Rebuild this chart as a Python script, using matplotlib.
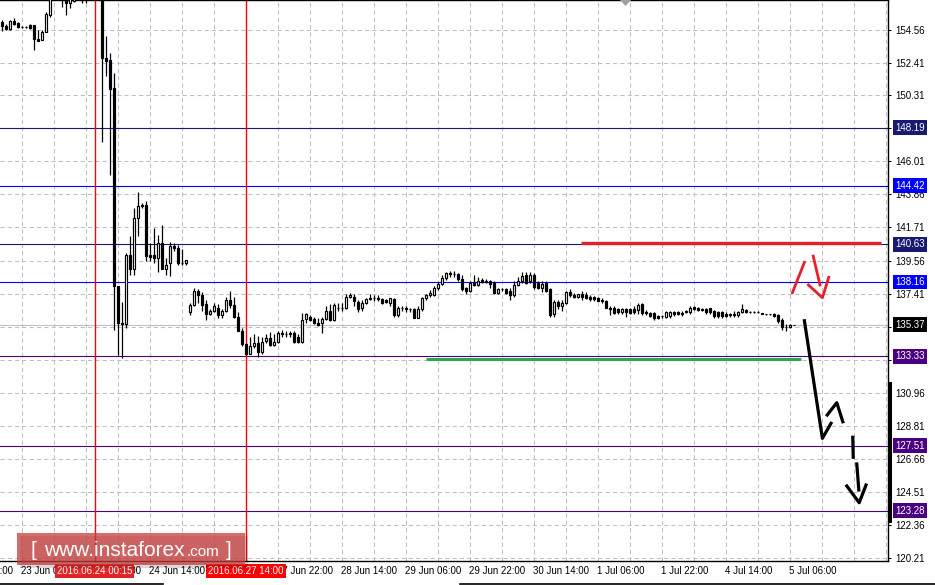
import numpy as np
import matplotlib
matplotlib.use("Agg")
import matplotlib.pyplot as plt
import matplotlib.transforms as mtransforms
from matplotlib.patches import Rectangle, Polygon
from matplotlib.lines import Line2D

plt.rcParams["font.family"] = ["Liberation Sans", "DejaVu Sans"]

W, H = 935, 585

# ---- H1 candles, GBPJPY 23 Jun 01:00 -> 5 Jul 08:00 (bar index = position)
opens = [155.08, 154.82, 154.62, 155.14, 155.01, 154.75, 154.74, 154.88, 154.88, 153.97,
         153.91, 154.43, 155.53, 156.9, 157.4, 157.3, 157.0, 156.3, 156.45, 156.7,
         157.0, 156.8, 157.1, 157.3, 158.5, 158.0, 152.74, 152.6, 150.78, 137.9,
         135.5, 135.45, 139.9, 139.0, 142.3, 143.2, 143.2, 139.9, 139.9, 139.7,
         140.7, 139.0, 139.4, 140.5, 140.4, 139.4, 139.4, 136.2, 136.66, 137.6,
         137.3, 136.7, 136.1, 136.3, 136.5, 136.0, 136.3, 137.0, 136.66, 135.9,
         135.0, 134.1, 133.5, 134.0, 134.2, 133.6, 134.3, 134.5, 134.06, 134.26,
         134.85, 134.8, 134.85, 134.85, 134.6, 134.26, 135.75, 135.9, 135.75, 135.5,
         135.5, 135.75, 136.27, 135.7, 136.5, 136.5, 136.5, 137.2, 137.2, 136.85,
         136.5, 136.8, 137.05, 137.1, 137.1, 137.05, 137.0, 136.8, 137.05, 136.0,
         136.5, 136.45, 136.4, 136.4, 135.85, 136.4, 137.1, 137.3, 137.3, 137.75,
         138.0, 138.4, 138.75, 138.7, 138.7, 138.35, 137.75, 137.58, 138.1, 137.95,
         138.3, 138.2, 138.2, 138.1, 137.45, 137.7, 137.7, 137.6, 137.3, 137.95,
         138.2, 138.6, 138.2, 138.6, 138.1, 137.8, 138.1, 137.7, 136.1, 136.86,
         136.6, 136.8, 137.5, 137.3, 137.2, 137.35, 137.3, 137.2, 137.2, 137.1,
         136.95, 136.9, 136.5, 136.5, 136.4, 136.2, 136.4, 136.4, 136.4, 136.35,
         136.7, 136.2, 136.15, 136.15, 135.95, 135.95, 135.9, 135.95, 136.2, 136.2,
         136.15, 136.2, 136.2, 136.55, 136.5, 136.38, 136.4, 136.45, 136.3, 136.2,
         136.2, 136.1, 136.1, 136.1, 136.0, 136.2, 136.35, 136.21, 136.2, 136.2,
         136.12, 136.08, 136.08, 136.1, 136.0, 135.7, 135.25, 135.26, 135.37]
highs = [155.21, 154.95, 155.21, 155.34, 155.08, 154.8, 154.8, 154.95, 154.9, 154.56,
         154.56, 155.7, 157.1, 157.6, 157.7, 157.6, 157.2, 157.0, 156.8, 157.2,
         157.3, 157.3, 157.6, 160.0, 159.5, 158.3, 154.17, 153.06, 151.76, 137.9,
         136.86, 140.05, 141.15, 142.97, 144.0, 143.3, 143.4, 140.7, 141.7, 141.2,
         141.9, 139.7, 140.76, 140.7, 140.6, 140.3, 139.62, 136.8, 137.8, 137.7,
         137.5, 137.0, 136.4, 136.8, 136.7, 136.4, 137.2, 137.6, 137.2, 136.2,
         135.2, 134.2, 134.6, 134.8, 134.65, 134.6, 134.8, 134.9, 134.8, 135.0,
         135.05, 135.0, 135.0, 135.0, 134.8, 136.15, 136.14, 136.0, 135.9, 135.8,
         135.9, 136.6, 136.7, 136.8, 136.8, 136.8, 137.4, 137.45, 137.4, 137.0,
         137.0, 137.15, 137.35, 137.3, 137.3, 137.1, 137.05, 137.1, 137.1, 136.6,
         136.6, 136.6, 136.5, 136.5, 136.6, 137.2, 137.4, 137.65, 137.9, 138.15,
         138.6, 138.8, 138.9, 138.85, 138.75, 138.6, 137.85, 138.2, 138.6, 138.5,
         138.4, 138.35, 138.3, 138.2, 137.8, 137.8, 137.8, 137.8, 138.2, 138.5,
         138.8, 138.8, 138.8, 138.75, 138.2, 138.25, 138.2, 137.8, 137.0, 137.0,
         137.0, 137.6, 137.7, 137.45, 137.4, 137.55, 137.5, 137.3, 137.25, 137.2,
         137.1, 137.0, 136.6, 136.6, 136.5, 136.5, 136.5, 136.5, 136.6, 136.8,
         136.8, 136.35, 136.2, 136.2, 136.0, 136.0, 136.25, 136.25, 136.3, 136.3,
         136.25, 136.35, 136.6, 136.6, 136.55, 136.5, 136.5, 136.5, 136.35, 136.25,
         136.25, 136.2, 136.15, 136.25, 136.3, 136.7, 136.4, 136.3, 136.25, 136.25,
         136.15, 136.1, 136.1, 136.15, 136.1, 135.8, 135.4, 135.4, 135.38]
lows = [154.49, 154.56, 154.56, 154.88, 154.69, 154.7, 154.7, 154.62, 153.26, 153.84,
        153.9, 154.4, 155.4, 156.7, 156.9, 156.05, 155.53, 155.99, 156.4, 156.6,
        156.31, 156.31, 156.8, 157.0, 157.2, 147.27, 151.57, 145.1, 135.04, 133.4,
        133.2, 135.17, 138.6, 138.6, 141.15, 143.0, 139.5, 139.5, 139.4, 138.8,
        139.0, 138.6, 138.55, 140.2, 139.3, 139.3, 139.3, 136.0, 136.6, 136.8,
        136.3, 135.7, 136.0, 136.2, 135.8, 135.8, 136.2, 136.5, 135.8, 135.0,
        134.0, 133.4, 133.5, 133.9, 133.3, 133.5, 134.2, 134.0, 134.0, 134.2,
        134.6, 134.6, 134.6, 134.2, 134.2, 134.2, 135.5, 135.6, 135.4, 135.3,
        134.85, 135.7, 135.6, 135.6, 136.3, 136.3, 136.4, 137.1, 136.6, 136.2,
        136.3, 136.75, 137.0, 136.9, 136.95, 136.75, 136.8, 136.6, 135.9, 135.9,
        136.3, 136.2, 136.2, 135.8, 135.8, 136.3, 137.0, 137.2, 137.25, 137.65,
        137.95, 138.3, 138.5, 138.5, 138.25, 137.6, 137.4, 137.5, 137.9, 137.9,
        138.1, 138.1, 137.8, 137.4, 137.4, 137.55, 137.4, 137.0, 137.2, 137.9,
        138.1, 138.0, 138.1, 137.7, 137.7, 137.5, 137.5, 135.9, 135.9, 136.4,
        136.3, 136.75, 137.2, 137.1, 137.15, 137.0, 137.05, 136.95, 136.95, 136.9,
        136.8, 136.45, 136.0, 136.05, 136.1, 136.1, 135.9, 136.05, 136.1, 136.1,
        136.0, 136.0, 135.9, 135.7, 135.75, 135.8, 135.8, 135.85, 135.95, 136.0,
        135.95, 136.15, 136.1, 136.35, 136.25, 136.3, 136.1, 136.1, 135.85, 135.85,
        135.8, 135.9, 135.9, 135.9, 135.9, 136.15, 136.15, 136.15, 136.15, 136.15,
        136.05, 136.0, 136.0, 135.9, 135.5, 135.05, 135.0, 135.2, 135.36]
closes = [154.82, 154.62, 155.14, 154.95, 154.75, 154.74, 154.74, 154.69, 153.97, 153.84,
          154.43, 155.6, 156.9, 157.4, 157.2, 157.0, 156.31, 156.8, 156.6, 157.0,
          156.8, 157.1, 157.3, 158.5, 158.0, 152.74, 152.54, 150.7, 137.9, 135.5,
          135.4, 139.9, 139.0, 142.3, 143.1, 143.1, 139.85, 139.8, 139.7, 140.7,
          139.0, 139.3, 140.5, 140.4, 139.4, 139.38, 139.6, 136.66, 137.6, 137.3,
          136.66, 136.1, 136.3, 136.6, 136.0, 136.3, 137.0, 136.66, 135.9, 135.0,
          134.1, 133.5, 134.0, 134.2, 133.6, 134.26, 134.5, 134.06, 134.26, 134.85,
          134.8, 134.8, 134.75, 134.26, 134.26, 135.7, 136.1, 135.7, 135.5, 135.35,
          135.75, 136.27, 135.7, 136.66, 136.5, 136.48, 137.2, 137.3, 136.9, 136.4,
          136.8, 137.05, 137.15, 137.1, 137.08, 136.8, 136.85, 137.1, 136.0, 136.5,
          136.48, 136.43, 136.38, 135.85, 136.4, 137.1, 137.3, 137.45, 137.8, 138.05,
          138.4, 138.75, 138.7, 138.69, 138.35, 137.7, 137.58, 138.1, 137.95, 138.2,
          138.15, 138.19, 138.0, 137.45, 137.7, 137.69, 137.45, 137.3, 137.95, 138.2,
          138.55, 138.1, 138.6, 137.85, 137.75, 138.05, 137.6, 136.0, 136.86, 136.6,
          136.8, 137.5, 137.3, 137.2, 137.35, 137.2, 137.1, 137.05, 137.05, 136.95,
          137.0, 136.5, 136.41, 136.15, 136.2, 136.4, 136.2, 136.15, 136.2, 136.65,
          136.15, 136.15, 135.95, 135.8, 135.8, 135.94, 136.2, 136.2, 136.05, 136.1,
          136.05, 136.3, 136.5, 136.4, 136.35, 136.37, 136.2, 136.2, 135.95, 135.95,
          135.95, 135.95, 136.0, 136.0, 136.2, 136.4, 136.2, 136.2, 136.19, 136.19,
          136.11, 136.07, 136.06, 135.98, 135.6, 135.25, 135.24, 135.37, 135.37]

# ---- levels on the price axis
level_prices = [148.19, 144.42, 140.63, 138.16, 133.33, 127.51, 123.28]
level_colors = ["#191970", "#0000ff", "#191970", "#0000ff", "#4b0082", "#4b0082", "#4b0082"]
bid_price = 135.37

y_ticks = [154.56, 152.41, 150.31, 148.16, 146.01, 143.86, 141.71, 139.56, 137.41,
           135.26, 133.11, 130.96, 128.81, 126.66, 124.51, 122.36, 120.21]

x_tick_bars = [-11, 5, 21, 37, 53, 69, 85, 101, 117, 133, 149, 165, 181, 197]
x_tick_labels = ["22 Jun 14:00", "23 Jun 06:00", "23 Jun 22:00", "24 Jun 14:00",
                 "27 Jun 06:00", "27 Jun 22:00", "28 Jun 14:00", "29 Jun 06:00",
                 "29 Jun 22:00", "30 Jun 14:00", "1 Jul 06:00", "1 Jul 22:00",
                 "4 Jul 14:00", "5 Jul 06:00"]

event_bars = [23.2, 61]
event_labels = ["2016.06.24 00:15", "2016.06.27 14:00"]

# ---- hand drawn analysis (bar, price)
resist_bars, resist_price = [144.75, 219.75], 140.68
support_bars, support_price = [106, 199.75], 133.18
red_up = ([197.6, 200.6], [137.47, 139.44])
red_shaft = ([202.8, 204.5], [139.85, 137.97])
red_head = ([201.6, 205.1, 206.7], [137.97, 137.14, 138.47])
blk_leg1 = ([200.6, 205.1, 207.25], [135.64, 127.99, 128.97])
blk_leg2 = ([206.3, 208.7, 210.2], [129.51, 130.31, 129.07])
blk_dash1 = ([212.7, 212.8], [128.06, 126.76])
blk_dash2 = ([213.7, 214.2], [126.32, 124.63])
blk_head = ([211.2, 214.3, 216.0], [124.89, 123.8, 124.95])

fig = plt.figure(figsize=(W / 100, H / 100), dpi=100)
ax = fig.add_axes([0, 24 / H, 888 / W, 561 / H])
ax.set_xlim(-0.5, 221.5)
ax.set_ylim(120.01, 156.51)

# grid
ax.set_xticks(np.arange(5, 222, 8))
ax.set_xticks([b for b in x_tick_bars if b >= 0], minor=True)
ax.set_yticks(y_ticks)
ax.set_yticklabels([f"{v:.2f}" for v in y_ticks])
ax.set_xticklabels([])
ax.grid(True, which="major", color="#c0c0c0", linestyle=(0, (4, 3)), lw=0.75)
ax.yaxis.tick_right()
ax.tick_params(axis="y", direction="out", length=2.5, width=0.75, pad=3, labelsize=7)
ax.tick_params(axis="x", which="major", length=0)
ax.tick_params(axis="x", which="minor", direction="out", length=2.5, width=0.75)
ax.spines["left"].set_visible(False)
for s in ("right", "bottom", "top"):
    ax.spines[s].set_linewidth(1.0)

# levels
for p, col in zip(level_prices, level_colors):
    ax.axhline(p, color=col, lw=0.8, zorder=2)
ax.axhline(bid_price, color="#c0c0c0", lw=0.8, zorder=2)
for b in event_bars:
    ax.axvline(b, color="#ff0000", lw=1.0, zorder=2)

# candles
idx = np.arange(len(opens))
o, h, l, c = map(np.array, (opens, highs, lows, closes))
up = c >= o
ax.vlines(idx, l, h, color="black", lw=0.9, zorder=3)
bot = np.minimum(o, c)
hgt = np.abs(c - o)
ax.bar(idx[up], hgt[up], bottom=bot[up], width=0.62, facecolor="white",
       edgecolor="black", lw=0.85, zorder=4)
ax.bar(idx[~up], hgt[~up], bottom=bot[~up], width=0.62, facecolor="black",
       edgecolor="black", lw=0.85, zorder=4)

# drawings
ax.plot(resist_bars, [resist_price] * 2, color="#e8202a", lw=2.4, solid_capstyle="butt", zorder=5)
ax.plot(support_bars, [support_price] * 2, color="#2ea84f", lw=2.2, solid_capstyle="butt", zorder=5)
for xs, ys in (red_up, red_shaft, red_head):
    ax.plot(xs, ys, color="#e8202a", lw=2.0, zorder=5)
for xs, ys in (blk_leg1, blk_leg2, blk_dash1, blk_dash2, blk_head):
    ax.plot(xs, ys, color="black", lw=2.3, zorder=5)

# price boxes
ytr = mtransforms.offset_copy(mtransforms.blended_transform_factory(ax.transAxes, ax.transData),
                              fig=fig, x=7, y=0, units="dots")
for p, col in list(zip(level_prices, level_colors)) + [(bid_price, "black")]:
    ax.text(1, p, f"{p:.2f}", transform=ytr, ha="left", va="center", color="white",
            fontsize=7, clip_on=False, zorder=6,
            bbox=dict(boxstyle="square,pad=0.25", fc=col, ec="none"))

# time labels
xtr = mtransforms.offset_copy(mtransforms.blended_transform_factory(ax.transData, ax.transAxes),
                              fig=fig, x=-1, y=-10, units="dots")
for b, lab in zip(x_tick_bars, x_tick_labels):
    ax.text(b, 0, lab, transform=xtr, ha="left", va="center", fontsize=7, clip_on=False)
xtr2 = mtransforms.offset_copy(mtransforms.blended_transform_factory(ax.transData, ax.transAxes),
                               fig=fig, x=0, y=-10, units="dots")
for b, lab, col in zip(event_bars, event_labels, ["#e42424", "#ff0000"]):
    ax.text(b, 0, lab, transform=xtr2, ha="center", va="center", fontsize=7, color="white",
            clip_on=False, zorder=7, bbox=dict(boxstyle="square,pad=0.2", fc=col, ec="none"))


def fpx(x, y):
    return x / W, 1 - y / H


# watermark
x0, y0 = fpx(17, 565)
fig.add_artist(Rectangle(fpx(20, 568), 228 / W, 32 / H, transform=fig.transFigure,
                         fc="black", alpha=0.15, ec="none", zorder=8))
fig.add_artist(Rectangle((x0, y0), 228 / W, 32 / H, transform=fig.transFigure,
                         fc="#c83c3c", alpha=0.75, ec="none", zorder=9))
for tx, s, fs in ((30, "[", 15), (44, "www.instaforex", 15), (187, ".com", 11), (226, "]", 15)):
    fig.text(*fpx(tx, 556), s, color="white", fontsize=fs, va="baseline", ha="left", zorder=10)

# chart-shift marker, stray trendline on the scale, window border
fig.add_artist(Polygon([fpx(620, 0), fpx(631, 0), fpx(625.5, 6)], closed=True,
                       transform=fig.transFigure, fc="#a0a0a0", ec="none"))
fig.add_artist(Line2D([889.5 / W] * 2, [1 - 383 / H, 1 - 521 / H], transform=fig.transFigure,
                      color="black", lw=2.2))
fig.add_artist(Line2D([0, 163 / W], [1 - 583.5 / H] * 2, transform=fig.transFigure,
                      color="black", lw=1.2))
fig.add_artist(Line2D([460 / W, 1], [1 - 583.5 / H] * 2, transform=fig.transFigure,
                      color="black", lw=1.2))

fig.savefig("out.png", dpi=100)
